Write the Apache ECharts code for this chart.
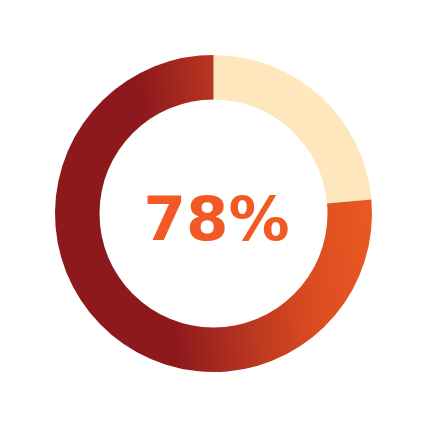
<!DOCTYPE html>
<html>
<head>
<meta charset="utf-8">
<script src="https://cdn.jsdelivr.net/npm/echarts@6/dist/echarts.min.js"></script>
<style>
html,body{margin:0;padding:0;background:#fff;}
#chart{width:428px;height:428px;}
</style>
</head>
<body>
<div id="chart"></div>
<script>
// Data
var categories = ['Rest', 'Share'];
var values = [23.6, 76.4];
var centerLabel = '78%';

var chart = echarts.init(document.getElementById('chart'), null, {renderer: 'canvas'});

var cx = 213.5, cy = 213.5;
var shareGradient = new echarts.graphic.LinearGradient(158, 213.5, 372, 184.3, [
  {offset: 0, color: '#8e191d'},
  {offset: 0.36, color: '#bb3820'},
  {offset: 0.65, color: '#da4b22'},
  {offset: 1, color: '#eb5a22'}
], true);
var colors = ['#fee6bd', shareGradient];

var option = {
  backgroundColor: '#ffffff',
  animation: false,
  series: [{
    type: 'pie',
    center: [cx, cy],
    radius: [114, 158.5],
    startAngle: 90,
    clockwise: true,
    silent: true,
    label: {show: false},
    labelLine: {show: false},
    emphasis: {disabled: true},
    itemStyle: {borderWidth: 0},
    data: categories.map(function (c, i) {
      return {name: c, value: values[i], itemStyle: {color: colors[i]}};
    })
  }],
  graphic: [{
    type: 'text',
    x: 216.5,
    y: 224,
    style: {
      text: centerLabel,
      x: 0, y: 0,
      fill: '#f15a24',
      font: 'bold 61px "DejaVu Sans"',
      textAlign: 'center',
      textVerticalAlign: 'middle'
    }
  }]
};
chart.setOption(option);
</script>
</body>
</html>
